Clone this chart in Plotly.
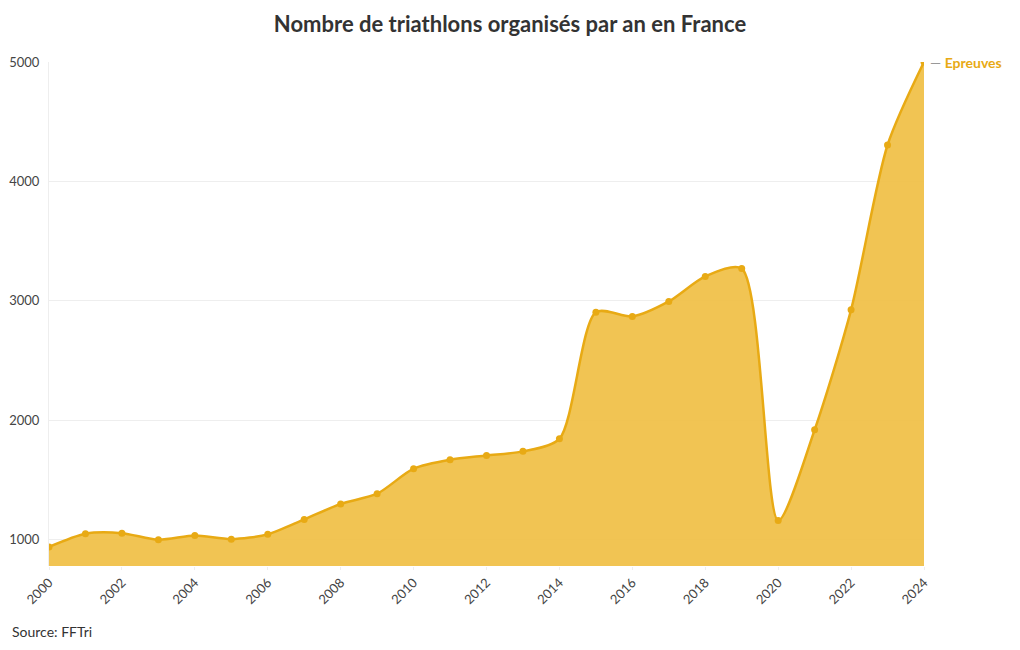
import plotly.graph_objects as go

years = list(range(2000, 2025))
epreuves = [940, 1050, 1055, 1000, 1035, 1005, 1045, 1170, 1300, 1385,
            1595, 1670, 1705, 1740, 1845, 2905, 2870, 2995, 3205, 3270,
            1160, 1920, 2925, 4305, 5000]
tick_years = list(range(2000, 2025, 2))

line_col = "#e8aa14"
fill_col = "rgba(239,190,64,0.9)"
font = "Lato, 'Source Sans Pro', 'Open Sans', sans-serif"

fig = go.Figure(go.Scatter(
    x=years, y=epreuves,
    mode="lines+markers",
    line=dict(color=line_col, width=2.5, shape="spline", smoothing=0.75),
    marker=dict(color=line_col, size=7),
    fill="tozeroy", fillcolor=fill_col,
    name="Epreuves",
    showlegend=False,
))

fig.add_annotation(
    x=years[-1], y=epreuves[-1],
    text="<span style='color:#999'>—</span> <b>Epreuves</b>",
    showarrow=False, xanchor="left", xshift=4,
    font=dict(color=line_col, size=14, family=font),
)

fig.add_annotation(
    text="Source: FFTri", xref="paper", yref="paper",
    x=-0.045, y=-0.129, xanchor="left", yanchor="middle", showarrow=False,
    font=dict(color="#333", size=14, family=font),
)

fig.update_layout(
    width=1004, height=634,
    title=dict(text="<b>Nombre de triathlons organisés par an en France</b>",
               x=0.5, xanchor="center", y=0.975, yanchor="middle",
               font=dict(size=22, color="#333", family=font)),
    font=dict(family=font, color="#444", size=13),
    plot_bgcolor="white", paper_bgcolor="white",
    margin=dict(l=41, r=88, t=54, b=76),
    xaxis=dict(range=[2000, 2024], tickvals=tick_years, tickangle=-45,
               showgrid=False, zeroline=False, showline=False,
               ticks="outside", ticklen=3, tickcolor="#eee",
               automargin=False,
               tickfont=dict(size=13, color="#444")),
    yaxis=dict(range=[780, 5000], tickvals=[1000, 2000, 3000, 4000, 5000],
               showgrid=True, gridcolor="#eee", zeroline=False,
               showline=True, linecolor="#eee", automargin=False,
               ticks="outside", ticklen=6, tickcolor="rgba(0,0,0,0)",
               tickfont=dict(size=13, color="#444")),
)

fig.write_html("out.html")
